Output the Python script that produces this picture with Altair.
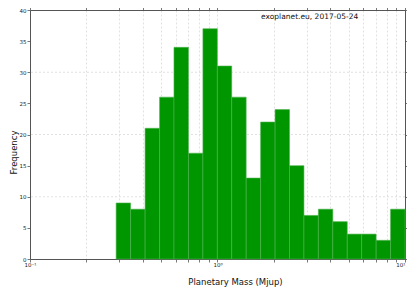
import altair as alt
import pandas as pd

counts = [9, 8, 21, 26, 34, 17, 37, 31, 26, 13, 22, 24, 15, 7, 8, 6, 4, 4, 3, 8]
edges = [0.288, 0.344, 0.411, 0.491, 0.586, 0.700, 0.836, 0.998, 1.191, 1.422,
         1.698, 2.028, 2.421, 2.891, 3.451, 4.121, 4.920, 5.875, 7.015, 8.375, 10.0]
x_ticks = [0.1, 0.2, 0.3, 0.4, 0.5, 0.6, 0.7, 0.8, 0.9,
           1, 2, 3, 4, 5, 6, 7, 8, 9, 10]
y_ticks = [0, 5, 10, 15, 20, 25, 30, 35, 40]
y_grid = [10, 20, 30]
note = "exoplanet.eu, 2017-05-24"
note_pos = [3.1, 38.9]

df = pd.DataFrame({"lo": edges[:-1], "hi": edges[1:], "count": counts})
gdf = pd.DataFrame({"count": y_grid})

xscale = alt.Scale(type="log", domain=[0.1, 10], nice=False)
yscale = alt.Scale(domain=[0, 40], nice=False, zero=True)

label_expr = ("datum.value == 0.1 ? '10\u207b\u00b9' : datum.value == 1 ? '10\u2070' : "
              "datum.value == 10 ? '10\u00b9' : ''")

line_style = dict(domainColor="#555555", domainWidth=1, tickColor="#555555",
                  tickWidth=0.8, tickSize=3)
common = dict(line_style, labelFont="DejaVu Sans",
              labelFontSize=5.5, labelColor="#222222", labelOverlap=False,
              labelFlush=False, titleFont="DejaVu Sans", titleFontSize=8.5,
              titleFontWeight="normal", titleColor="#111111")

grid = alt.Chart(gdf).mark_rule(strokeDash=[2, 2], color="#d4d4d4", strokeWidth=0.7).encode(
    y=alt.Y("count:Q", scale=yscale, axis=None)
)

bars = alt.Chart(df).mark_bar(color="#009600", stroke="#4db34d", strokeWidth=0.6).encode(
    x=alt.X("lo:Q", scale=xscale,
            axis=alt.Axis(orient="bottom", values=x_ticks, labelExpr=label_expr,
                          labelAlign={"condition": {"test": "datum.value >= 10", "value": "right"},
                                      "value": "center"},
                          grid=True, gridDash=[2, 2], gridColor="#d4d4d4", gridWidth=0.7,
                          labelPadding=0.5, title="Planetary Mass (Mjup)",
                          titleX=205, titleY=22, titleBaseline="middle", **common)),
    x2="hi",
    y=alt.Y("count:Q", scale=yscale,
            axis=alt.Axis(orient="left", values=y_ticks, grid=False, labelPadding=1,
                          title="Frequency", titleX=-17, titleY=142,
                          titleBaseline="middle", **common)),
    y2=alt.datum(0),
)

frame = alt.Chart(df).mark_bar(opacity=0).encode(
    x=alt.X("lo:Q", scale=xscale,
            axis=alt.Axis(orient="top", values=x_ticks, labels=False, grid=False,
                          title=None, **line_style)),
    x2="hi",
    y=alt.Y("count:Q", scale=yscale,
            axis=alt.Axis(orient="right", values=y_ticks, labels=False, grid=False,
                          title=None, **dict(line_style, tickSize=2))),
    y2=alt.datum(0),
)

text = alt.Chart(pd.DataFrame({"t": [note]})).mark_text(
    font="DejaVu Sans", fontSize=7.5, color="#111111", align="center", baseline="middle"
).encode(
    x=alt.XDatum(note_pos[0], scale=xscale, axis=None),
    y=alt.YDatum(note_pos[1], scale=yscale, axis=None),
    text="t:N",
)

chart = alt.layer(grid, bars, frame, text).resolve_axis(
    x="independent", y="independent"
).properties(
    width=375, height=249,
    autosize=alt.AutoSizeParams(type="none"),
    padding={"left": 22, "top": 2, "right": 2, "bottom": 28},
).configure_view(stroke=None).configure(background="white")

chart.save("out.html", embed_options={"renderer": "svg", "actions": False})
